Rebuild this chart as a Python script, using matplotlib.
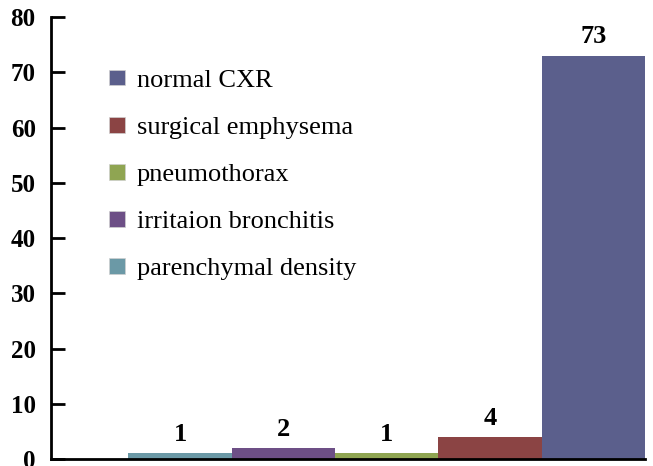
import matplotlib
matplotlib.use("Agg")
import matplotlib.pyplot as plt
from matplotlib.patches import Patch

categories = ["parenchymal density", "irritaion bronchitis", "pneumothorax",
              "surgical emphysema", "normal CXR"]
values = [1, 2, 1, 4, 73]
colors = ["#6b99a6", "#6d4f86", "#8fa552", "#8b4444", "#5b5f8c"]
yticks = [0, 10, 20, 30, 40, 50, 60, 70, 80]

plt.rcParams['font.family'] = ['Liberation Serif', 'DejaVu Serif']

fig = plt.figure(figsize=(6.53, 4.66), dpi=100)
W, H = 653, 466
ax = fig.add_axes([51 / W, (466 - 459) / H, (645 - 51) / W, (459 - 17) / H])

x = list(range(len(categories)))
bars = ax.bar(x, values, width=1.0, color=colors, edgecolor='none')
for xi, v in zip(x, values):
    ax.text(xi, v + 1.3, str(v), ha='center', va='bottom', fontsize=19, fontweight='bold')

ax.set_xlim(-1.25, 4.5)
ax.set_ylim(0, 80)
ax.set_yticks(yticks)
ax.set_yticklabels([str(t) for t in yticks], fontsize=18, fontweight='bold')
ax.set_xticks([])
ax.tick_params(axis='y', direction='in', length=10, width=2, pad=11)
for s in ['top', 'right']:
    ax.spines[s].set_visible(False)
ax.spines['left'].set_linewidth(2)
ax.spines['bottom'].set_linewidth(2)

handles = [Patch(facecolor=c, edgecolor='#d0d0d0', linewidth=0.5) for c in colors][::-1]
labels = categories[::-1]
leg = ax.legend(handles, labels, loc='upper left', bbox_to_anchor=(0.08, 0.905),
                frameon=False, fontsize=19, handlelength=0.6, handleheight=0.55,
                handletextpad=0.45, labelspacing=0.94, borderaxespad=0)

fig.savefig("out.png", dpi=100)
